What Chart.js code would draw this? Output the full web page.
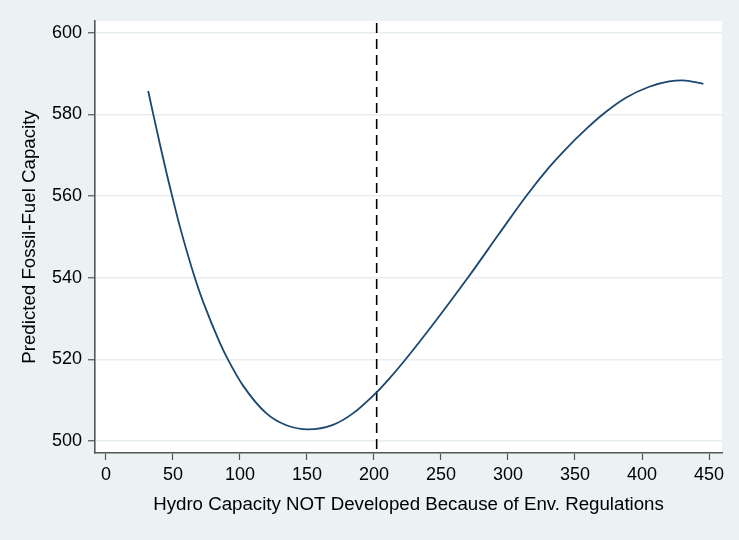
<!DOCTYPE html>
<html>
<head>
<meta charset="utf-8">
<title>Predicted Fossil-Fuel Capacity</title>
<style>
  body { margin: 0; background: #eaf2f3; }
  #wrap { width: 739px; height: 540px; }
</style>
</head>
<body>
<div id="wrap">
  <canvas id="fossilChart" width="739" height="540"></canvas>
</div>

<script src="https://cdn.jsdelivr.net/npm/chart.js"></script>
<script>
// values
const hydro = [31.5, 35.25, 40.24, 45.23, 49.4, 55.1, 66.3, 72.5, 84.9, 91.65, 102.3, 119.7, 134.6, 150.9,
               169.4, 184.3, 201.7, 211.6, 223.5, 246.4, 270, 293.6, 313.5, 330.8, 343.3, 358.2,
               370.6, 388, 405.4, 420.3, 430.2, 445.8];
const fossil = [585.75, 580.1, 572.7, 565.6, 560, 552.6, 540, 534.1, 524.15, 519.6, 513.6, 506.8, 503.9, 502.9,
                504.0, 506.8, 511.9, 515.4, 520, 529.6, 540, 550.9, 560, 567.1, 571.6, 576.4,
                580, 584.1, 586.8, 588.1, 588.35, 587.5];
const cutoff = 202;   // dashed vertical reference line
const xTicks = [0, 50, 100, 150, 200, 250, 300, 350, 400, 450];
const yTicks = [500, 520, 540, 560, 580, 600];

const fontFamily = '"Liberation Sans", Arial, Helvetica, sans-serif';

// stata-ish background: bluish grey outside, white plot region
const backdrop = {
    id: 'backdrop',
    beforeDraw(chart) {
        const { ctx, chartArea: a } = chart;
        ctx.save();
        ctx.fillStyle = '#eaf2f3';
        ctx.fillRect(0, 0, chart.width, chart.height);
        ctx.fillStyle = '#ffffff';
        ctx.fillRect(a.left, a.top, a.right - a.left, a.bottom - a.top);
        ctx.restore();
    }
};

const cutoffLine = {
    id: 'cutoffLine',
    beforeDatasetsDraw(chart) {
        const { ctx, chartArea: a, scales } = chart;
        const px = scales.x.getPixelForValue(cutoff);
        ctx.save();
        ctx.strokeStyle = '#000000';
        ctx.lineWidth = 1.6;
        ctx.setLineDash([10, 6]);
        ctx.beginPath();
        ctx.moveTo(px, a.top + 2);
        ctx.lineTo(px, a.bottom);
        ctx.stroke();
        ctx.restore();
    }
};

const ctx = document.getElementById('fossilChart').getContext('2d');
const fossilChart = new Chart(ctx, {
    type: 'line',
    data: {
        datasets: [{
            label: 'Predicted Fossil-Fuel Capacity',
            data: hydro.map((h, i) => ({ x: h, y: fossil[i] })),
            borderColor: '#1a476f',
            borderWidth: 1.8,
            pointRadius: 0,
            cubicInterpolationMode: 'monotone',
            fill: false
        }]
    },
    options: {
        responsive: false,
        animation: false,
        layout: { padding: { left: 0, top: 21, right: 17, bottom: 0 } },
        plugins: {
            legend: { display: false },
            tooltip: { enabled: false }
        },
        scales: {
            x: {
                type: 'linear',
                min: -8.2,
                max: 459.7,
                afterBuildTicks: (scale) => { scale.ticks = xTicks.map(v => ({ value: v })); },
                afterFit: (scale) => { scale.height = 87; },
                grid: { drawOnChartArea: false, drawTicks: true, tickLength: 7, tickColor: '#555555', tickWidth: 1.2 },
                border: { color: '#555555', width: 1.6 },
                ticks: { color: '#000000', padding: 4, maxRotation: 0, font: { family: fontFamily, size: 18 } },
                title: {
                    display: true,
                    text: 'Hydro Capacity NOT Developed Because of Env. Regulations',
                    color: '#000000',
                    font: { family: fontFamily, size: 18.7 },
                    padding: { top: 0, bottom: 23.8 }
                }
            },
            y: {
                min: 497.1,
                max: 602.9,
                afterBuildTicks: (scale) => { scale.ticks = yTicks.map(v => ({ value: v })); },
                afterFit: (scale) => { scale.width = 95; },
                grid: { color: '#e6eef2', lineWidth: 1.5, drawTicks: true, tickLength: 7, tickColor: '#555555', tickWidth: 1.2 },
                border: { color: '#555555', width: 1.6 },
                ticks: { color: '#000000', padding: 6, font: { family: fontFamily, size: 18 } },
                title: {
                    display: true,
                    text: 'Predicted Fossil-Fuel Capacity',
                    color: '#000000',
                    font: { family: fontFamily, size: 18.7 },
                    padding: { top: 18.8, bottom: 0 }
                }
            }
        }
    },
    plugins: [backdrop, cutoffLine]
});
</script>
</body>
</html>
